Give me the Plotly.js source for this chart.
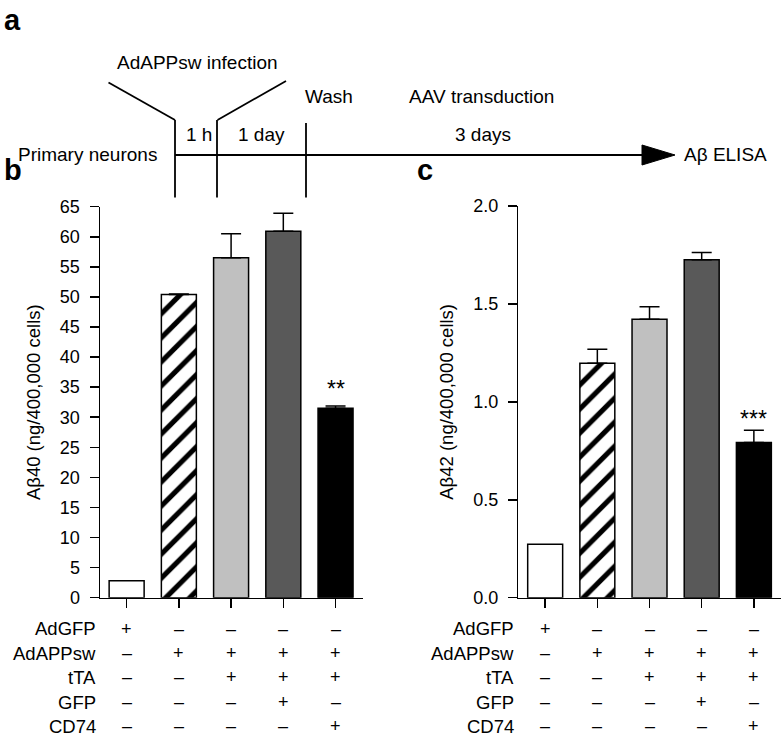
<!DOCTYPE html>
<html>
<head>
<meta charset="utf-8">
<script src="https://cdn.plot.ly/plotly-3.0.1.min.js"></script>
<style>html,body{margin:0;padding:0;background:#fff;} #chart{width:783px;height:738px;}</style>
</head>
<body>
<div id="chart"></div>
<script>
// ---------- data ----------
const groups = ['AdGFP', 'AdAPPsw', 'AdAPPsw+tTA', 'AdAPPsw+tTA+GFP', 'AdAPPsw+tTA+CD74'];
const ab40 = [2.8, 50.4, 56.5, 60.9, 31.5];
const ab40Err = [0, 0.1, 4.0, 3.0, 0.35];
const ab42 = [0.273, 1.197, 1.422, 1.726, 0.792];
const ab42Err = [0, 0.072, 0.063, 0.036, 0.063];
const sig40 = ['', '', '', '', '**'];
const sig42 = ['', '', '', '', '***'];
const barColors = ['#ffffff', '#ffffff', '#c0c0c0', '#595959', '#000000'];
const barPatterns = ['', '/', '', '', ''];
const rowLabels = ['AdGFP', 'AdAPPsw', 'tTA', 'GFP', 'CD74'];
const rowAdGFP   = ['+', '–', '–', '–', '–'];
const rowAdAPPsw = ['–', '+', '+', '+', '+'];
const rowTTA     = ['–', '–', '+', '+', '+'];
const rowGFP     = ['–', '–', '–', '+', '–'];
const rowCD74    = ['–', '–', '–', '–', '+'];
const tableRows = [rowAdGFP, rowAdAPPsw, rowTTA, rowGFP, rowCD74];

// ---------- helpers ----------
const W = 783, H = 738;
const px = x => x / W;
const py = y => 1 - y / H;
const FONT = 'Liberation Sans, Arial, Helvetica, sans-serif';

// one trace per bar so each bar gets its own fill / hatch
function barTraces(vals, errs, xa, ya) {
  return groups.map((g, i) => {
    const marker = {color: barColors[i], line: {color: '#000', width: 1.5}};
    if (barPatterns[i]) {
      marker.pattern = {shape: barPatterns[i], fgcolor: '#000', bgcolor: barColors[i],
                        size: 17, solidity: 0.3, fillmode: 'replace'};
    }
    return {
      type: 'bar', x: [g], y: [vals[i]], xaxis: xa, yaxis: ya,
      width: 0.67, marker: marker,
      error_y: {type: 'data', symmetric: false, array: [errs[i]], arrayminus: [0],
                color: '#000', thickness: 1.5, width: 10, visible: errs[i] > 0},
      showlegend: false, hoverinfo: 'x+y', name: g
    };
  });
}

const traces = barTraces(ab40, ab40Err, 'x', 'y').concat(barTraces(ab42, ab42Err, 'x2', 'y2'));

const axisCommon = {
  showline: true, linecolor: '#000', linewidth: 1.5,
  ticks: 'outside', ticklen: 9, tickwidth: 1.5, tickcolor: '#000',
  showgrid: false, zeroline: false, fixedrange: true,
  tickfont: {family: FONT, size: 18, color: '#000'}
};

const layout = {
  width: W, height: H,
  margin: {l: 0, r: 0, t: 0, b: 0},
  paper_bgcolor: '#fff', plot_bgcolor: '#fff',
  font: {family: FONT, size: 18, color: '#000'},
  barmode: 'overlay',
  xaxis: Object.assign({}, axisCommon, {domain: [px(100), px(362.7)], anchor: 'y',
          range: [-0.51, 4.52], showticklabels: false, type: 'category', categoryarray: groups, categoryorder: 'array'}),
  yaxis: Object.assign({}, axisCommon, {domain: [py(597.7), py(206.7)], anchor: 'x',
          range: [0, 65], dtick: 5, tick0: 0, ticklabelstandoff: 6,
          title: {text: 'Aβ40 (ng/400,000 cells)', font: {family: FONT, size: 18.5, color: '#000'}, standoff: 14}}),
  xaxis2: Object.assign({}, axisCommon, {domain: [px(518.3), px(781)], anchor: 'y2',
          range: [-0.515, 4.52], showticklabels: false, type: 'category', categoryarray: groups, categoryorder: 'array'}),
  yaxis2: Object.assign({}, axisCommon, {domain: [py(597.7), py(206)], anchor: 'x2',
          range: [0, 2.0], dtick: 0.5, tick0: 0, tickformat: '.1f', ticklabelstandoff: 6,
          title: {text: 'Aβ42 (ng/400,000 cells)', font: {family: FONT, size: 18.5, color: '#000'}, standoff: 14}}),
  shapes: [],
  annotations: []
};

// ---------- panel a: timeline diagram ----------
const lineStyle = {color: '#000', width: 1.8};
function seg(x0, y0, x1, y1) {
  layout.shapes.push({type: 'line', xref: 'paper', yref: 'paper',
    x0: px(x0), y0: py(y0), x1: px(x1), y1: py(y1), line: lineStyle});
}
seg(175, 155, 646, 155);           // main timeline
seg(175, 120, 175, 197.5);         // infection start
seg(217, 120, 217, 197.5);         // infection end
seg(306, 123, 306, 197.5);         // wash
seg(108.5, 82.5, 175, 120);        // left funnel
seg(217.5, 120, 286, 81);          // right funnel
layout.shapes.push({type: 'path', xref: 'paper', yref: 'paper',
  path: `M ${px(642)} ${py(145)} L ${px(675)} ${py(155)} L ${px(642)} ${py(165)} Z`,
  fillcolor: '#000', line: {color: '#000', width: 1}});

function txt(text, x, y, xanchor, size, bold) {
  layout.annotations.push({text: bold ? '<b>' + text + '</b>' : text, xref: 'paper', yref: 'paper',
    x: px(x), y: py(y), xanchor: xanchor || 'center', yanchor: 'middle', showarrow: false,
    font: {family: FONT, size: size || 19, color: '#000'}});
}
txt('a', 2, 20, 'left', 29, true);
txt('b', 2, 170, 'left', 29, true);
txt('c', 415, 170, 'left', 29, true);
txt('AdAPPsw infection', 197.5, 62.5);
txt('1 h', 199, 134);
txt('1 day', 261, 134);
txt('Wash', 303, 96, 'left');
txt('AAV transduction', 481, 96);
txt('3 days', 483, 134);
txt('Aβ ELISA', 682, 155, 'left');
txt('Primary neurons', 159, 155, 'right');

// ---------- significance stars ----------
function stars(sig, vals, errs, xa, ya, shift) {
  sig.forEach((s, i) => {
    if (!s) return;
    layout.annotations.push({text: s, xref: xa, yref: ya, x: groups[i], y: vals[i] + errs[i],
      yanchor: 'middle', yshift: shift, showarrow: false, font: {family: FONT, size: 23, color: '#000'}});
  });
}
stars(sig40, ab40, ab40Err, 'x', 'y', 17);
stars(sig42, ab42, ab42Err, 'x2', 'y2', 11);

// ---------- condition table ----------
const rowY = [628.7, 653.3, 677.3, 702.3, 726];
function table(xa, labelX) {
  rowLabels.forEach((lab, r) => {
    layout.annotations.push({text: lab, xref: 'paper', yref: 'paper', x: px(labelX), y: py(rowY[r]),
      xanchor: 'right', yanchor: 'middle', showarrow: false, font: {family: FONT, size: 18.5, color: '#000'}});
    tableRows[r].forEach((v, i) => {
      layout.annotations.push({text: v, xref: xa, yref: 'paper', x: groups[i], y: py(rowY[r]),
        xanchor: 'center', yanchor: 'middle', showarrow: false, font: {family: FONT, size: 18, color: '#000'}});
    });
  });
}
table('x', 98);
table('x2', 516);

Plotly.newPlot('chart', traces, layout, {staticPlot: true, displayModeBar: false});
</script>
</body>
</html>
